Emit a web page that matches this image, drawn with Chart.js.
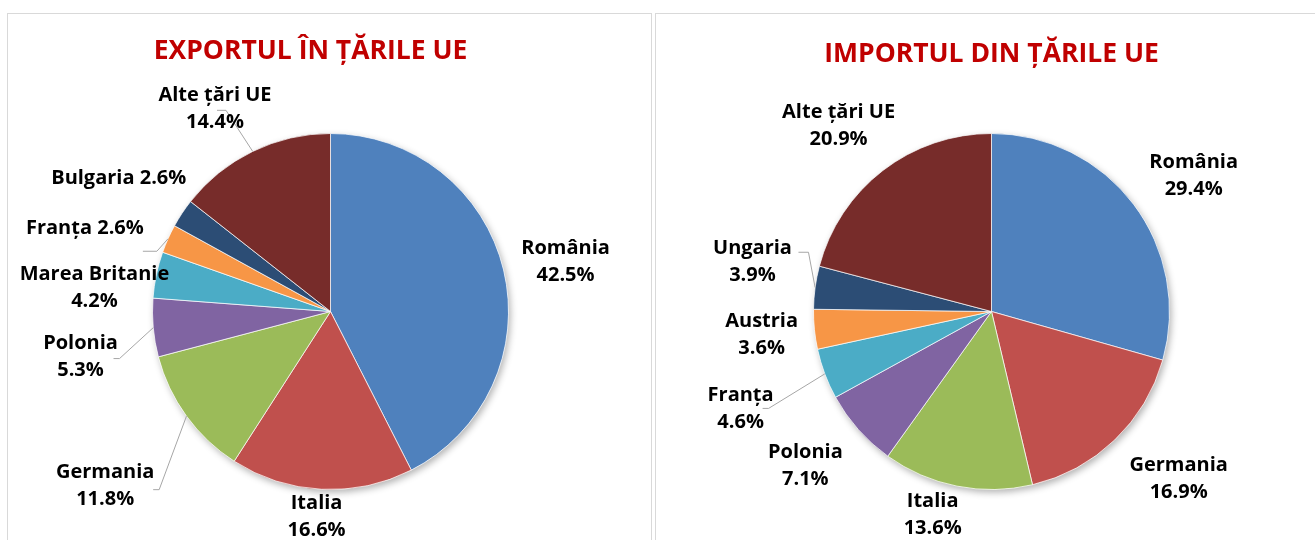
<!DOCTYPE html>
<html>
<head>
<meta charset="utf-8">
<script src="https://cdn.jsdelivr.net/npm/chart.js@4.4.1/dist/chart.umd.min.js"></script>
<style>
    body { margin: 0; background: #fff; width: 1315px; height: 540px; overflow: hidden; position: relative; }
    .panel { position: absolute; top: 13px; height: 560px; border: 1px solid #d9d9d9; background: #fff; }
    #p1 { left: 7px; width: 643px; }
    #p2 { left: 655px; width: 700px; }
    canvas { display: block; }
</style>
</head>
<body>
<div class="panel" id="p1"><canvas id="export" width="643" height="526"></canvas></div>
<div class="panel" id="p2"><canvas id="import" width="659" height="526"></canvas></div>
<script>
const exportTari = ['România', 'Italia', 'Germania', 'Polonia', 'Marea Britanie', 'Franța', 'Bulgaria', 'Alte țări UE']
const exportPonderi = [42.5, 16.6, 11.8, 5.3, 4.2, 2.6, 2.6, 14.4]

const importTari = ['România', 'Germania', 'Italia', 'Polonia', 'Franța', 'Austria', 'Ungaria', 'Alte țări UE']
const importPonderi = [29.4, 16.9, 13.6, 7.1, 4.6, 3.6, 3.9, 20.9]

const culori = ['#4F81BD', '#C0504D', '#9BBB59', '#8064A2', '#4BACC6', '#F79646', '#2C4D75', '#772C2A']

// where each label sits: nudge (deg) from the slice middle, distance in radii
const exportEtichete = [
    { nudge: 1.5, dist: 1.35 },
    { nudge: 1, dist: 1.155 },
    { nudge: -1.7, dist: 1.6, leader: [48, 4, 6] },
    { nudge: -5, dist: 1.427, leader: [33, 2, 6] },
    { nudge: -6.1, dist: 1.333 },
    { nudge: -5.4, dist: 1.457, inline: true, leader: [58, 23, 14] },
    { nudge: -1.4, dist: 1.404, inline: true },
    { nudge: -3.7, dist: 1.313, leader: [2, 2, 9] }
]
const importEtichete = [
    { nudge: 3.2, dist: 1.368 },
    { nudge: -4.4, dist: 1.412 },
    { nudge: 5, dist: 1.188 },
    { nudge: 2, dist: 1.357 },
    { nudge: -0.6, dist: 1.511, leader: [22, 0, 6] },
    { nudge: 0, dist: 1.298 },
    { nudge: 3.9, dist: 1.371, leader: [46, -10, 10] },
    { nudge: -1.8, dist: 1.353 }
]

const umbra = {
    id: 'umbra',
    beforeDatasetsDraw(chart) {
        const arc = chart.getDatasetMeta(0).data[0]
        if (!arc) return
        const ctx = chart.ctx
        ctx.save()
        ctx.shadowColor = 'rgba(0,0,0,0.3)'
        ctx.shadowBlur = 7
        ctx.shadowOffsetX = 2
        ctx.shadowOffsetY = 3
        ctx.fillStyle = '#fff'
        ctx.beginPath()
        ctx.arc(arc.x, arc.y, arc.outerRadius, 0, Math.PI * 2)
        ctx.fill()
        ctx.restore()
    }
}

const etichete = {
    id: 'etichete',
    afterDatasetsDraw(chart, args, opts) {
        const ctx = chart.ctx
        const meta = chart.getDatasetMeta(0)
        const values = chart.data.datasets[0].data
        const names = chart.data.labels
        ctx.save()
        ctx.font = 'bold 20px "Open Sans"'
        ctx.fillStyle = '#000'
        ctx.textAlign = 'center'
        ctx.textBaseline = 'middle'
        meta.data.forEach((arc, i) => {
            const cfg = opts.layout[i]
            const mid = (arc.startAngle + arc.endAngle) / 2
            const a = mid + cfg.nudge * Math.PI / 180
            const x = arc.x + Math.cos(a) * arc.outerRadius * cfg.dist
            const y = arc.y + Math.sin(a) * arc.outerRadius * cfg.dist
            const val = values[i].toFixed(1) + '%'
            const lines = cfg.inline ? [names[i] + ' ' + val] : [names[i], val]

            if (cfg.leader) {
                const ex = arc.x + Math.cos(mid) * arc.outerRadius
                const ey = arc.y + Math.sin(mid) * arc.outerRadius
                const [ax, ay, stub] = cfg.leader
                ctx.strokeStyle = '#a6a6a6'
                ctx.lineWidth = 1
                ctx.beginPath()
                ctx.moveTo(x + ax, y + ay)
                ctx.lineTo(x + ax + stub, y + ay)
                ctx.lineTo(ex, ey)
                ctx.stroke()
            }
            lines.forEach((t, k) => {
                ctx.fillText(t, x, y + (k - (lines.length - 1) / 2) * 27)
            })
        })
        ctx.restore()
    }
}

const titlu = {
    id: 'titlu',
    afterDraw(chart, args, opts) {
        const ctx = chart.ctx
        const area = chart.chartArea
        ctx.save()
        ctx.font = 'bold 26.5px "Open Sans"'
        ctx.fillStyle = '#C00000'
        ctx.textAlign = 'center'
        ctx.textBaseline = 'middle'
        ctx.fillText(opts.text, (area.left + area.right) / 2 + opts.dx, opts.y)
        ctx.restore()
    }
}

function pie(id, tari, ponderi, layout, titleText, pad, titleDx, titleY) {
    const ctx = document.getElementById(id).getContext('2d')
    return new Chart(ctx, {
        type: 'pie',
        data: {
            labels: tari,
            datasets: [{
                data: ponderi,
                backgroundColor: culori,
                borderColor: 'rgba(255,255,255,0.7)',
                borderWidth: 1
            }]
        },
        options: {
            responsive: false,
            animation: false,
            layout: { padding: pad },
            plugins: {
                legend: { display: false },
                tooltip: { enabled: false },
                etichete: { layout: layout },
                titlu: { text: titleText, dx: titleDx, y: titleY }
            }
        },
        plugins: [umbra, etichete, titlu]
    })
}

pie('export', exportTari, exportPonderi, exportEtichete, 'EXPORTUL ÎN ȚĂRILE UE',
    { left: 144, right: 142, top: 119, bottom: 50 }, -20, 37)
pie('import', importTari, importPonderi, importEtichete, 'IMPORTUL DIN ȚĂRILE UE',
    { left: 157, right: 145, top: 119, bottom: 50 }, 0, 40)
</script>
</body>
</html>
